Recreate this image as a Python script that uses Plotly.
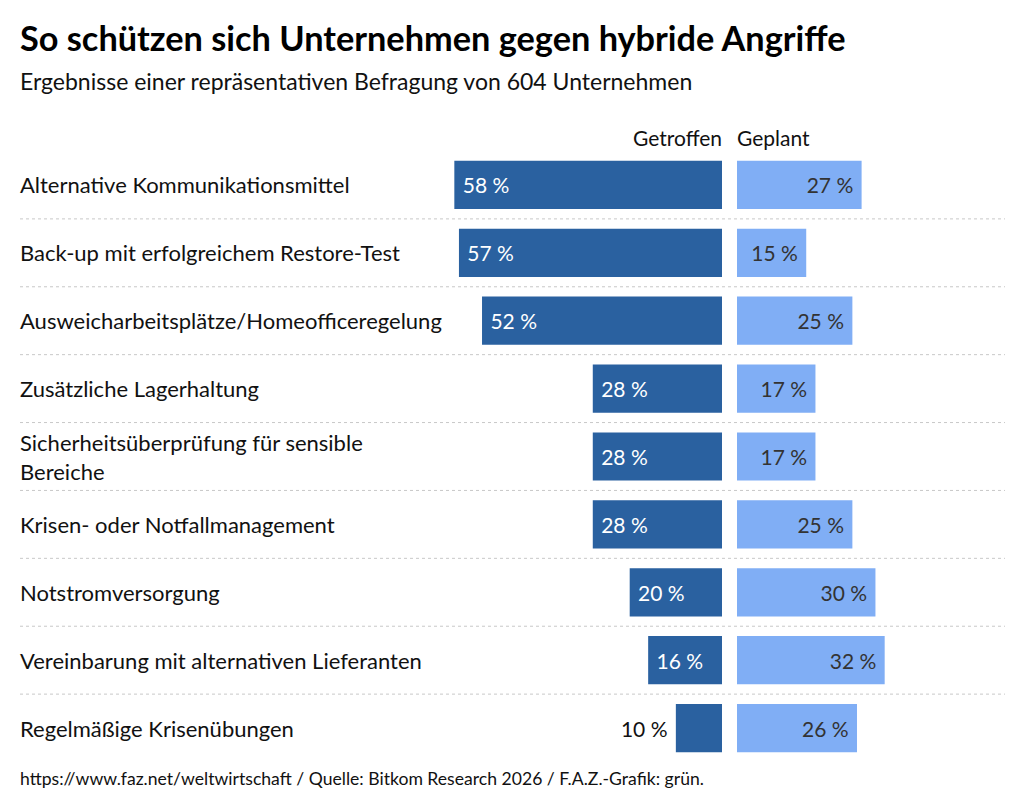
import plotly.graph_objects as go

# Data
categories = [
    "Alternative Kommunikationsmittel",
    "Back-up mit erfolgreichem Restore-Test",
    "Ausweicharbeitsplätze/Homeofficeregelung",
    "Zusätzliche Lagerhaltung",
    "Sicherheitsüberprüfung für sensible<br>Bereiche",
    "Krisen- oder Notfallmanagement",
    "Notstromversorgung",
    "Vereinbarung mit alternativen Lieferanten",
    "Regelmäßige Krisenübungen",
]
getroffen = [58, 57, 52, 28, 28, 28, 20, 16, 10]
geplant = [27, 15, 25, 17, 17, 25, 30, 32, 26]
getroffen_textpos = ["inside"] * 8 + ["outside"]

title = "So schützen sich Unternehmen gegen hybride Angriffe"
subtitle = "Ergebnisse einer repräsentativen Befragung von 604 Unternehmen"
source = "https://www.faz.net/weltwirtschaft / Quelle: Bitkom Research 2026 / F.A.Z.-Grafik: grün."

FONT = "Lato"
DARK = "#2a61a0"
LIGHT = "#80aef5"
TEXT = "#111111"
NB = "\u00a0"

W, H = 1024, 810
PLOT_TOP, PLOT_BOT = 143, 754   # pixel rows of the plot area
PX_PER_PCT = 4.615


def py(pix):
    # pixel row -> paper y
    return (PLOT_BOT - pix) / (PLOT_BOT - PLOT_TOP)


y_idx = list(range(len(categories)))

# labels with a bit of padding (non-breaking spaces)
get_text = [
    (NB + f"{v} %") if pos == "inside" else (f"{v} %" + NB)
    for v, pos in zip(getroffen, getroffen_textpos)
]
gep_text = [f"{v} %" + NB for v in geplant]

fig = go.Figure()

fig.add_trace(go.Bar(
    x=getroffen, y=y_idx, orientation="h", xaxis="x", yaxis="y",
    marker=dict(color=DARK, line=dict(width=0)),
    width=0.71,
    text=get_text, textposition=getroffen_textpos,
    insidetextanchor="end", textangle=0, constraintext="none",
    insidetextfont=dict(family=FONT, size=21, color="white"),
    outsidetextfont=dict(family=FONT, size=21, color=TEXT),
    cliponaxis=False, hoverinfo="skip", showlegend=False,
))

fig.add_trace(go.Bar(
    x=geplant, y=y_idx, orientation="h", xaxis="x2", yaxis="y",
    marker=dict(color=LIGHT, line=dict(width=0)),
    width=0.71,
    text=gep_text, textposition="inside",
    insidetextanchor="end", textangle=0, constraintext="none",
    insidetextfont=dict(family=FONT, size=21, color="#333333"),
    cliponaxis=False, hoverinfo="skip", showlegend=False,
))

# category labels, left aligned
for i, c in enumerate(categories):
    fig.add_annotation(
        x=10 / W, y=i, xref="paper", yref="y", text=c,
        xanchor="left", yanchor="middle", align="left", showarrow=False,
        font=dict(family=FONT, size=22, color=TEXT),
    )

# dotted separators between rows
for i in range(len(categories) - 1):
    fig.add_shape(
        type="line", xref="paper", yref="y",
        x0=12 / W, x1=997 / W, y0=i + 0.5, y1=i + 0.5,
        line=dict(color="#c8c8c8", width=1, dash="dot"),
    )

# column headers
fig.add_annotation(x=716 / W, y=py(129), xref="paper", yref="paper", text="Getroffen",
                   xanchor="right", yanchor="middle", showarrow=False,
                   font=dict(family=FONT, size=21, color=TEXT))
fig.add_annotation(x=727 / W, y=py(129), xref="paper", yref="paper", text="Geplant",
                   xanchor="left", yanchor="middle", showarrow=False,
                   font=dict(family=FONT, size=21, color=TEXT))

# title, subtitle, source
fig.add_annotation(x=10 / W, y=py(29), xref="paper", yref="paper",
                   text=f"<b>{title}</b>", xanchor="left", yanchor="middle",
                   showarrow=False, font=dict(family=FONT, size=34.3, color="#000000"))
fig.add_annotation(x=10 / W, y=py(73), xref="paper", yref="paper",
                   text=subtitle, xanchor="left", yanchor="middle",
                   showarrow=False, font=dict(family=FONT, size=23, color=TEXT))
fig.add_annotation(x=10 / W, y=py(770), xref="paper", yref="paper",
                   text=source, xanchor="left", yanchor="middle",
                   showarrow=False, font=dict(family=FONT, size=17.6, color=TEXT))

fig.update_layout(
    width=W, height=H,
    margin=dict(l=0, r=0, t=PLOT_TOP, b=H - PLOT_BOT),
    paper_bgcolor="white", plot_bgcolor="white",
    barmode="overlay",
    xaxis=dict(domain=[0, 714 / W], range=[714 / PX_PER_PCT, 0], visible=False, fixedrange=True),
    xaxis2=dict(domain=[729 / W, 1], range=[0, 295 / PX_PER_PCT], visible=False, fixedrange=True),
    yaxis=dict(range=[8.5, -0.5], visible=False, fixedrange=True),
)

fig.write_html("out.html")
